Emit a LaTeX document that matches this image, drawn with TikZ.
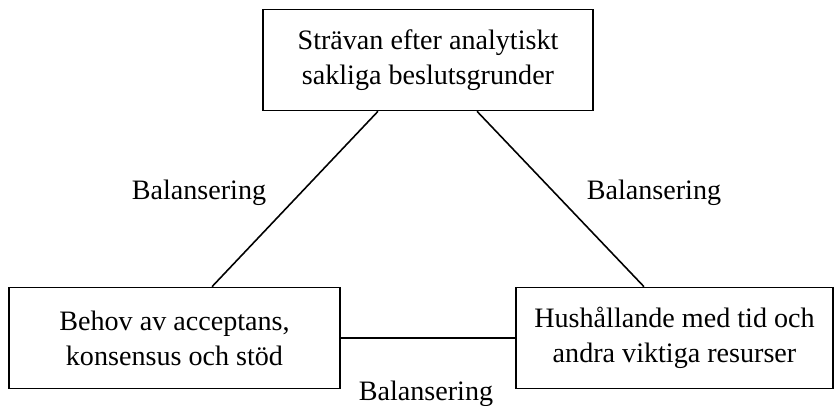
\documentclass[tikz,border=0pt]{standalone}
\usepackage{fontspec}
\setmainfont{Liberation Serif}
\usetikzlibrary{calc}
\begin{document}
\begin{tikzpicture}[
  every node/.style={font=\fontsize{16}{20}\selectfont},
  ruta/.style={draw, line width=0.9pt, align=center, minimum height=2.02cm, inner sep=0pt},
  linje/.style={line width=0.9pt}
]
\useasboundingbox (0,0) rectangle (16.68,-8.12);

% Rutor
\node[ruta, minimum width=6.6cm] (S) at (8.56,-1.20) {Strävan efter analytiskt\\sakliga beslutsgrunder};
\node[ruta, minimum width=6.62cm] (B) at (3.49,-6.76) {Behov av acceptans,\\konsensus och stöd};
\node[ruta, minimum width=6.34cm] (H) at (13.49,-6.76) {Hushållande med tid och\\andra viktiga resurser};

% Linjer
\draw[linje] ($(S.south)+(-1,0)$) -- ($(B.north)+(0.75,0)$);
\draw[linje] ($(S.south)+(0.98,0)$) -- ($(H.north)+(-0.61,0)$);
\draw[linje] (B.east) -- (H.west);

% Balansering
\node (L1) at (3.98,-3.85) {Balansering};
\node (L2) at (13.08,-3.85) {Balansering};
\node (L3) at (8.52,-7.87) {Balansering};
\end{tikzpicture}
\end{document}
